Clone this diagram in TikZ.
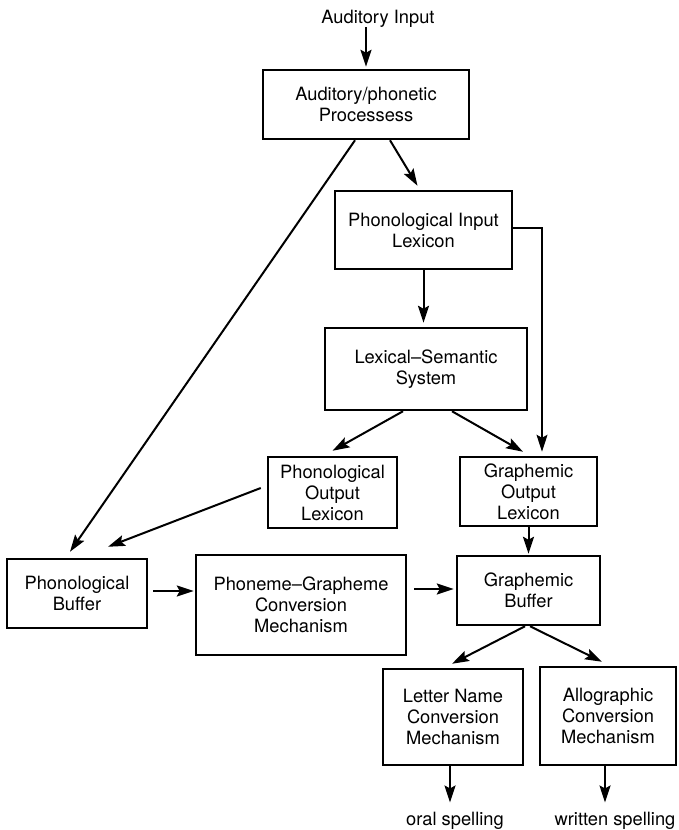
\documentclass[tikz,border=0pt]{standalone}
\usepackage{fontspec}
\setmainfont{TeX Gyre Heros}
\usetikzlibrary{arrows.meta,calc}
\begin{document}
\begin{tikzpicture}[x=1pt,y=-1pt,
  box/.style={draw, line width=2.5pt, inner sep=0pt, align=center, font=\fontsize{18.3}{21}\selectfont},
  lbl/.style={inner sep=0pt, font=\fontsize{18.3}{21}\selectfont},
  arr/.style={line width=2pt, -{Stealth[length=17pt,width=11pt,inset=3pt]}},
  thinarr/.style={line width=1.2pt, -{Stealth[length=17pt,width=11pt,inset=3pt]}}]
\useasboundingbox (0,0) rectangle (679,830);

% text labels
\node[lbl, anchor=base] (AI) at (378,23) {Auditory Input};
\node[lbl, anchor=base] (OS) at (455,825) {oral spelling};
\node[lbl, anchor=base] (WS) at (615,825) {written spelling};

% boxes
\node[box, minimum width=206pt, minimum height=69pt] (AP) at (366,104.5) {Auditory/phonetic\\Processess};
\node[box, minimum width=177pt, minimum height=78pt] (PIL) at (423.5,230) {Phonological Input\\Lexicon};
\node[box, minimum width=202pt, minimum height=82pt] (LSS) at (426,369) {Lexical–Semantic\\System};
\node[box, minimum width=129pt, minimum height=71pt] (POL) at (332.5,492.5) {Phonological\\Output\\Lexicon};
\node[box, minimum width=137pt, minimum height=69pt] (GOL) at (528.5,491.5) {Graphemic\\Output\\Lexicon};
\node[box, minimum width=140pt, minimum height=69pt] (PB) at (77,593.5) {Phonological\\Buffer};
\node[box, minimum width=210pt, minimum height=100pt] (PGCM) at (301,605) {Phoneme–Grapheme\\Conversion\\Mechanism};
\node[box, minimum width=143pt, minimum height=69pt] (GB) at (528.5,590.5) {Graphemic\\Buffer};
\node[box, minimum width=140pt, minimum height=96pt] (LNCM) at (453,717) {Letter Name\\Conversion\\Mechanism};
\node[box, minimum width=136pt, minimum height=98pt] (ACM) at (608,716) {Allographic\\Conversion\\Mechanism};

% connectors
\draw[arr] (AP.north |- AI.south) -- ($(AP.north)+(0,-2)$);
\draw[arr] ($(AP.south)+(24,0)$) -- ($(PIL.north)+(-6,-4)$);
\draw[arr] ($(AP.south)+(-11,0)$) -- ($(PB.north)+(-7,-6)$);
\draw[arr] (PIL.south) -- ($(PIL.south |- LSS.north)+(0,-4)$);
\draw[thinarr] ($(PIL.east)+(0,-2)$) -| ($(GOL.north)+(13.5,-4)$);
\draw[arr] ($(LSS.south)+(-23,0)$) -- ($(POL.north)+(0,-5)$);
\draw[arr] ($(LSS.south)+(26,0)$) -- ($(GOL.north)+(-5.5,-4)$);
\draw[arr] ($(POL.west)+(-6,-4.5)$) -- ($(PB.north)+(31,-11)$);
\draw[arr] ($(PB.east)+(5,-2.5)$) -- ($(PB.east -| PGCM.west)+(-1,-2.5)$);
\draw[arr] ($(GB.west -| PGCM.east)+(7,-1.5)$) -- ($(GB.west)+(-2,-1.5)$);
\draw[arr] (GOL.south) -- ($(GB.north)+(0,-1)$);
\draw[arr] ($(GB.south)+(-3.5,0)$) -- ($(LNCM.north)+(-1,-4)$);
\draw[arr] ($(GB.south)+(1.5,0)$) -- ($(ACM.north)+(-6,-4)$);
\draw[arr] ($(LNCM.south)+(-3,0)$) -- ($(LNCM.south |- OS.north)+(-3,-9)$);
\draw[arr] ($(ACM.south)+(-3,0)$) -- ($(ACM.south |- WS.north)+(-3,-9)$);
\end{tikzpicture}
\end{document}
